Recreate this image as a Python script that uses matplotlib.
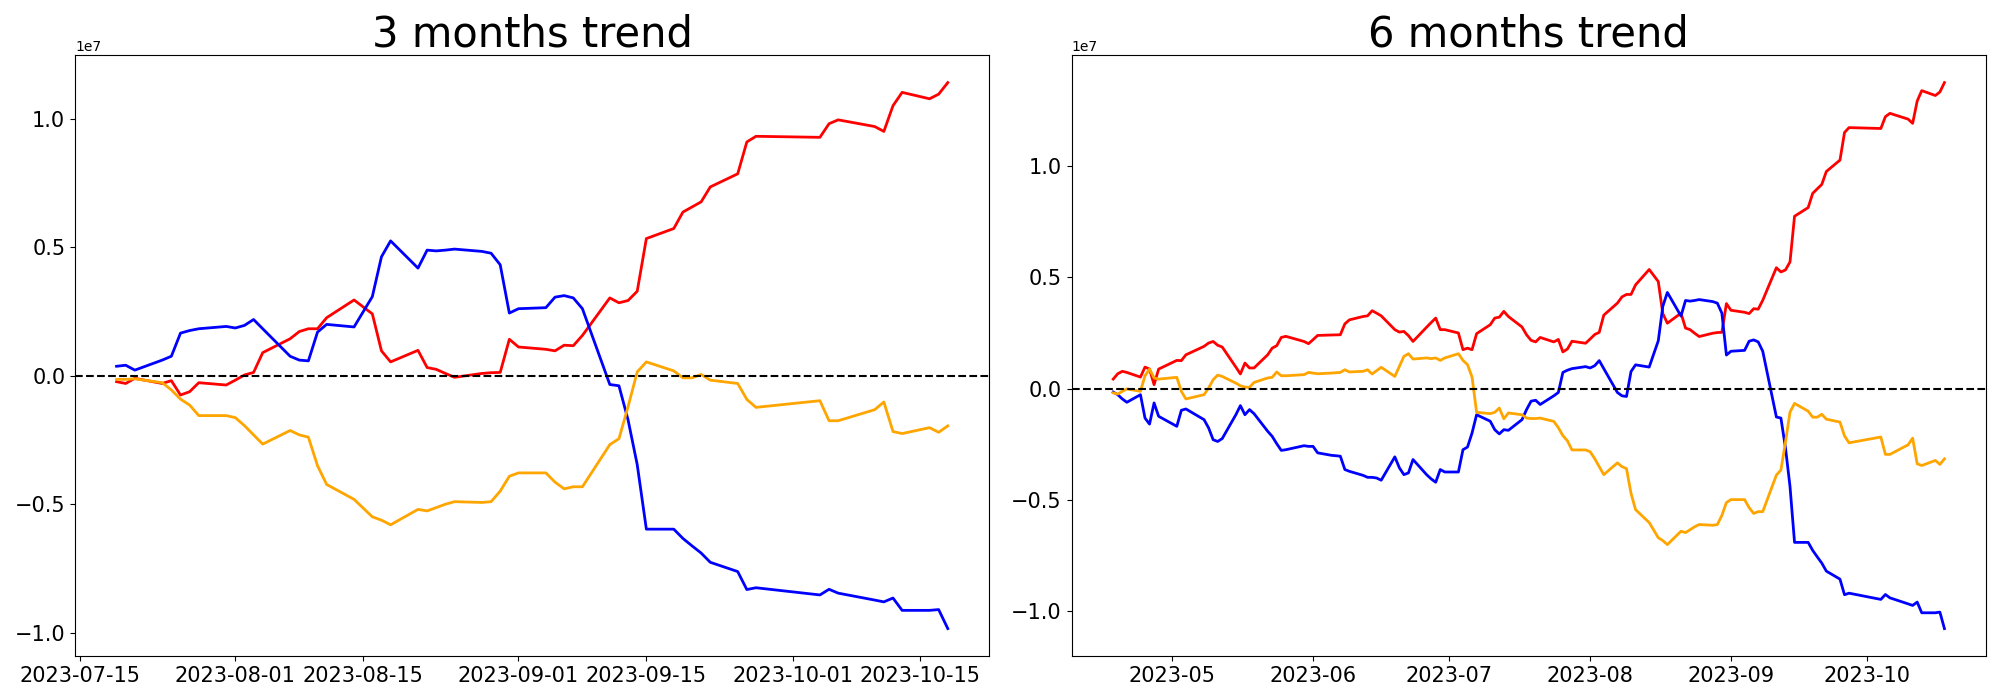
import matplotlib
matplotlib.use("Agg")
import matplotlib.pyplot as plt
import matplotlib.dates as mdates
import numpy as np
import pandas as pd

SCALE = 1e7

# ---- 3 months (trading days) ----
dates_3m = ["2023-07-19", "2023-07-20", "2023-07-21", "2023-07-24", "2023-07-25", "2023-07-26",
            "2023-07-27", "2023-07-28", "2023-07-31",
            "2023-08-01", "2023-08-02", "2023-08-03", "2023-08-04", "2023-08-07", "2023-08-08",
            "2023-08-09", "2023-08-10", "2023-08-11", "2023-08-14", "2023-08-16", "2023-08-17",
            "2023-08-18", "2023-08-21", "2023-08-22", "2023-08-23", "2023-08-24", "2023-08-25",
            "2023-08-28", "2023-08-29", "2023-08-30", "2023-08-31",
            "2023-09-01", "2023-09-04", "2023-09-05", "2023-09-06", "2023-09-07", "2023-09-08",
            "2023-09-11", "2023-09-12", "2023-09-13", "2023-09-14", "2023-09-15", "2023-09-18",
            "2023-09-19", "2023-09-20", "2023-09-21", "2023-09-22", "2023-09-25", "2023-09-26",
            "2023-09-27",
            "2023-10-04", "2023-10-05", "2023-10-06", "2023-10-10", "2023-10-11", "2023-10-12",
            "2023-10-13", "2023-10-16", "2023-10-17", "2023-10-18"]

red_3m = [-0.023, -0.030, -0.010, -0.030, -0.019, -0.075, -0.062, -0.027, -0.036,
          -0.017, 0.003, 0.013, 0.090, 0.144, 0.172, 0.183, 0.183, 0.226, 0.295, 0.241, 0.097,
          0.054, 0.099, 0.032, 0.025, 0.009, -0.006, 0.009, 0.012, 0.013, 0.142,
          0.112, 0.103, 0.097, 0.119, 0.117, 0.157, 0.303, 0.284, 0.293, 0.329, 0.534, 0.573,
          0.637, 0.657, 0.677, 0.735, 0.786, 0.910, 0.932,
          0.928, 0.981, 0.996, 0.970, 0.951, 1.051, 1.103, 1.078, 1.096, 1.141]

blue_3m = [0.037, 0.041, 0.022, 0.061, 0.076, 0.166, 0.176, 0.183, 0.192,
           0.186, 0.196, 0.219, 0.183, 0.076, 0.061, 0.058, 0.170, 0.200, 0.190, 0.308, 0.463,
           0.525, 0.419, 0.489, 0.486, 0.489, 0.493, 0.484, 0.477, 0.432, 0.244,
           0.261, 0.265, 0.306, 0.312, 0.303, 0.261, -0.034, -0.039, -0.172, -0.346, -0.597, -0.597,
           -0.633, -0.662, -0.690, -0.726, -0.762, -0.832, -0.825,
           -0.853, -0.831, -0.846, -0.873, -0.880, -0.865, -0.913, -0.913, -0.910, -0.984]

orange_3m = [-0.014, -0.014, -0.012, -0.027, -0.055, -0.091, -0.114, -0.155, -0.155,
             -0.163, -0.194, -0.230, -0.266, -0.213, -0.230, -0.239, -0.350, -0.423, -0.481, -0.549, -0.562,
             -0.580, -0.520, -0.526, -0.513, -0.500, -0.490, -0.493, -0.490, -0.449, -0.391,
             -0.378, -0.378, -0.414, -0.440, -0.432, -0.432, -0.268, -0.245, -0.120, 0.015, 0.054, 0.019,
             -0.008, -0.008, 0.005, -0.017, -0.030, -0.092, -0.123,
             -0.097, -0.175, -0.175, -0.132, -0.102, -0.217, -0.225, -0.202, -0.220, -0.195]

# ---- 6 months (trading days) ----
dates_6m_early = ["2023-04-18", "2023-04-19", "2023-04-20", "2023-04-21", "2023-04-24", "2023-04-25",
                  "2023-04-26", "2023-04-27", "2023-04-28",
                  "2023-05-02", "2023-05-03", "2023-05-04", "2023-05-08", "2023-05-09", "2023-05-10",
                  "2023-05-11", "2023-05-12", "2023-05-15", "2023-05-16", "2023-05-17", "2023-05-18",
                  "2023-05-19", "2023-05-22", "2023-05-23", "2023-05-24", "2023-05-25", "2023-05-26",
                  "2023-05-30", "2023-05-31",
                  "2023-06-01", "2023-06-02", "2023-06-05", "2023-06-07", "2023-06-08", "2023-06-09",
                  "2023-06-12", "2023-06-13", "2023-06-14", "2023-06-15", "2023-06-16", "2023-06-19",
                  "2023-06-20", "2023-06-21", "2023-06-22", "2023-06-23", "2023-06-26", "2023-06-27",
                  "2023-06-28", "2023-06-29", "2023-06-30",
                  "2023-07-03", "2023-07-04", "2023-07-05", "2023-07-06", "2023-07-07", "2023-07-10",
                  "2023-07-11", "2023-07-12", "2023-07-13", "2023-07-14", "2023-07-17", "2023-07-18"]
dates_6m = dates_6m_early + dates_3m

red_6m = [0.043, 0.067, 0.078, 0.073, 0.052, 0.097, 0.088, 0.018, 0.088,
          0.127, 0.126, 0.152, 0.190, 0.205, 0.212, 0.195, 0.187, 0.097, 0.066, 0.115, 0.093,
          0.093, 0.152, 0.182, 0.193, 0.230, 0.235, 0.212, 0.202,
          0.220, 0.239, 0.241, 0.242, 0.291, 0.309, 0.324, 0.327, 0.350, 0.339, 0.327, 0.265,
          0.254, 0.257, 0.238, 0.212, 0.276, 0.297, 0.317, 0.265, 0.265,
          0.250, 0.175, 0.182, 0.175, 0.247, 0.287, 0.317, 0.321, 0.347, 0.324, 0.277, 0.242,
          0.217, 0.210, 0.230, 0.210, 0.221, 0.165, 0.178, 0.213, 0.204,
          0.223, 0.243, 0.253, 0.330, 0.384, 0.412, 0.423, 0.423, 0.466, 0.535, 0.481, 0.337,
          0.294, 0.339, 0.272, 0.265, 0.249, 0.234, 0.249, 0.252, 0.253, 0.382,
          0.352, 0.343, 0.337, 0.359, 0.357, 0.397, 0.543, 0.524, 0.533, 0.569, 0.774, 0.813,
          0.877, 0.897, 0.917, 0.975, 1.026, 1.150, 1.172,
          1.168, 1.221, 1.236, 1.210, 1.191, 1.291, 1.338, 1.316, 1.332, 1.374]

blue_6m = [-0.015, -0.027, -0.046, -0.061, -0.027, -0.132, -0.159, -0.064, -0.124,
           -0.169, -0.097, -0.091, -0.139, -0.176, -0.229, -0.237, -0.224, -0.117, -0.076, -0.117, -0.094,
           -0.112, -0.191, -0.214, -0.247, -0.277, -0.274, -0.256, -0.259,
           -0.259, -0.288, -0.299, -0.303, -0.363, -0.371, -0.389, -0.398, -0.398, -0.401, -0.411, -0.306,
           -0.355, -0.386, -0.378, -0.318, -0.386, -0.405, -0.420, -0.363, -0.374,
           -0.374, -0.274, -0.262, -0.199, -0.117, -0.146, -0.184, -0.203, -0.184, -0.187, -0.139, -0.094,
           -0.056, -0.052, -0.071, -0.032, -0.017, 0.073, 0.083, 0.090, 0.099,
           0.093, 0.103, 0.126, 0.090, -0.017, -0.032, -0.035, 0.077, 0.107, 0.097, 0.215, 0.370,
           0.432, 0.326, 0.396, 0.393, 0.396, 0.400, 0.391, 0.384, 0.339, 0.151,
           0.168, 0.172, 0.213, 0.219, 0.210, 0.168, -0.127, -0.132, -0.265, -0.439, -0.690, -0.690,
           -0.726, -0.755, -0.783, -0.819, -0.855, -0.925, -0.918,
           -0.946, -0.924, -0.939, -0.966, -0.973, -0.958, -1.006, -1.006, -1.003, -1.077]

orange_6m = [-0.019, -0.024, -0.012, -0.001, -0.012, 0.058, 0.088, 0.048, 0.043,
             0.051, -0.012, -0.046, -0.027, 0.003, 0.040, 0.061, 0.055, 0.025, 0.013, 0.007, 0.006,
             0.028, 0.048, 0.051, 0.075, 0.058, 0.058, 0.063, 0.073,
             0.070, 0.067, 0.070, 0.073, 0.085, 0.075, 0.078, 0.085, 0.066, 0.081, 0.096, 0.055,
             0.100, 0.145, 0.157, 0.133, 0.138, 0.135, 0.138, 0.127, 0.138,
             0.157, 0.127, 0.108, 0.052, -0.106, -0.112, -0.106, -0.087, -0.135, -0.109, -0.117, -0.132,
             -0.134, -0.134, -0.132, -0.147, -0.175, -0.211, -0.234, -0.275, -0.275,
             -0.283, -0.314, -0.350, -0.386, -0.333, -0.350, -0.359, -0.470, -0.543, -0.601, -0.669, -0.682,
             -0.700, -0.640, -0.646, -0.633, -0.620, -0.610, -0.613, -0.610, -0.569, -0.511,
             -0.498, -0.498, -0.534, -0.560, -0.552, -0.552, -0.388, -0.365, -0.240, -0.105, -0.066, -0.101,
             -0.128, -0.128, -0.115, -0.137, -0.150, -0.212, -0.243,
             -0.217, -0.295, -0.295, -0.252, -0.222, -0.337, -0.345, -0.322, -0.340, -0.315]

titles = ["3 months trend", "6 months trend"]

fig, axes = plt.subplots(1, 2, figsize=(20, 7), dpi=100)
fig.subplots_adjust(left=0.0375, right=0.993, bottom=0.063, top=0.921, wspace=0.09)

panels = [
    (dates_3m, red_3m, blue_3m, orange_3m),
    (dates_6m, red_6m, blue_6m, orange_6m),
]

for ax, title, (dts, r, b, o) in zip(axes, titles, panels):
    x = pd.to_datetime(dts)
    ax.plot(x, np.array(r) * SCALE, color="red", lw=2)
    ax.plot(x, np.array(b) * SCALE, color="blue", lw=2)
    ax.plot(x, np.array(o) * SCALE, color="orange", lw=2)
    ax.axhline(0, color="black", linestyle="--", lw=1.5)
    ax.set_title(title, fontsize=30)
    ax.tick_params(labelsize=15)

axes[0].xaxis.set_major_locator(mdates.DayLocator(bymonthday=[1, 15]))
axes[0].xaxis.set_major_formatter(mdates.DateFormatter("%Y-%m-%d"))
axes[1].xaxis.set_major_locator(mdates.MonthLocator())
axes[1].xaxis.set_major_formatter(mdates.DateFormatter("%Y-%m"))

fig.savefig("out.png", dpi=100)
